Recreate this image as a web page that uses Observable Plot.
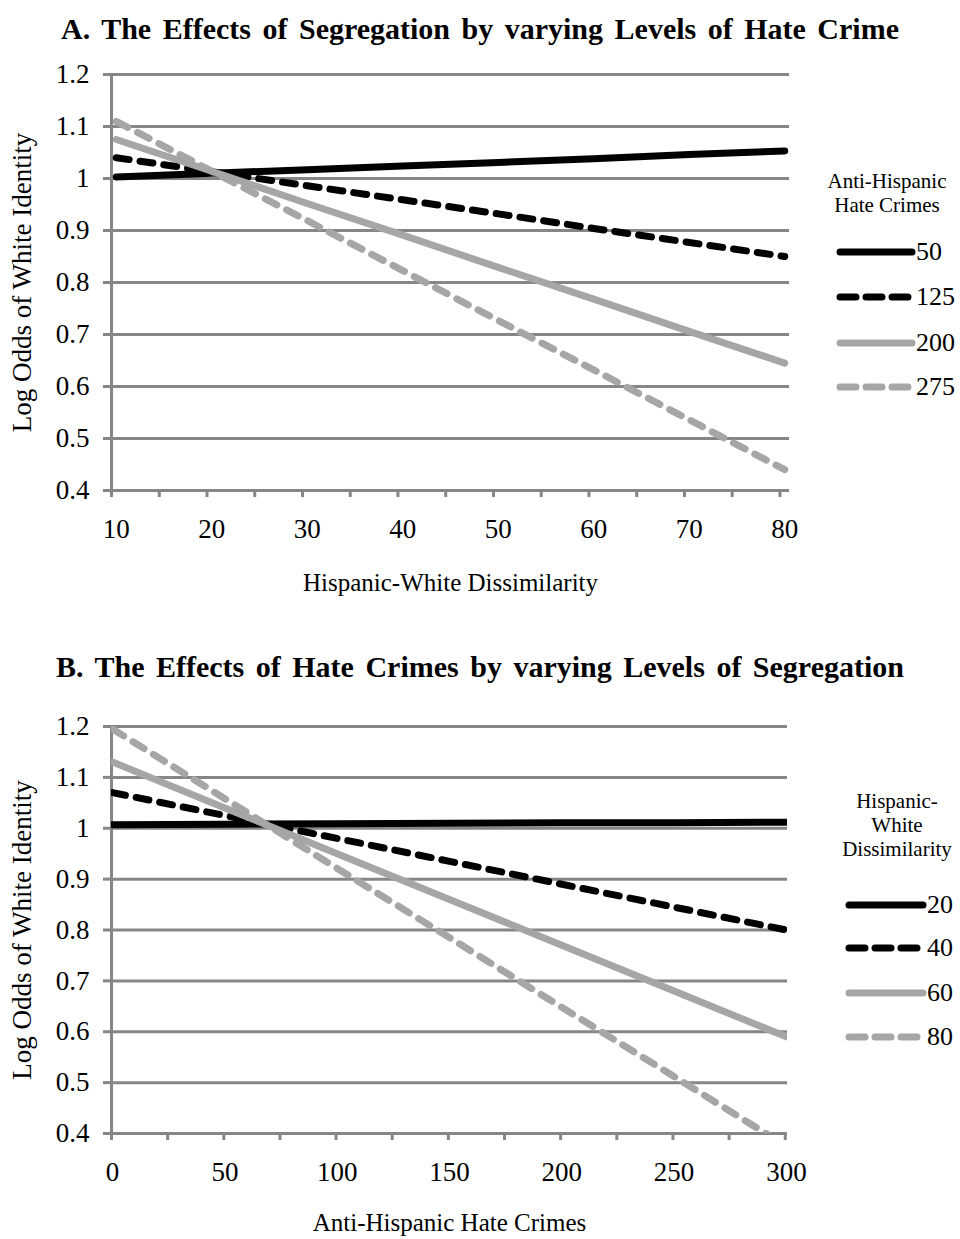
<!DOCTYPE html>
<html><head><meta charset="utf-8">
<script src="https://cdn.jsdelivr.net/npm/d3@7"></script>
<script src="https://cdn.jsdelivr.net/npm/@observablehq/plot@0.6"></script>
<style>
body{margin:0;background:#fff;font-family:"Liberation Serif","Times New Roman",serif;}
#page{position:relative;width:960px;height:1239px;overflow:hidden;background:#fff;}
.title{position:absolute;left:0;width:960px;text-align:center;font-weight:bold;font-size:30px;word-spacing:4px;line-height:1;color:#000;}
.plot{position:absolute;left:0;}
.lgt{position:absolute;text-align:center;font-size:21px;line-height:24px;color:#000;}
.lgi{position:absolute;font-size:26px;line-height:1;color:#000;}
</style></head>
<body><div id="page"></div>
<script>
// ---------- Panel A data ----------
const titleA = "A. The Effects of Segregation by varying Levels of Hate Crime";
const xTitleA = "Hispanic-White Dissimilarity";
const legendTitleA = ["Anti-Hispanic", "Hate Crimes"];
const seriesA = ["50", "125", "200", "275"];
const dissimilarity = [10, 20, 30, 40, 50, 60, 70, 80];
const crimes50  = [1.003, 1.010, 1.017, 1.024, 1.031, 1.038, 1.046, 1.053];
const crimes125 = [1.040, 1.013, 0.986, 0.959, 0.932, 0.904, 0.877, 0.850];
const crimes200 = [1.075, 1.014, 0.952, 0.891, 0.829, 0.768, 0.706, 0.645];
const crimes275 = [1.110, 1.014, 0.919, 0.823, 0.727, 0.632, 0.536, 0.440];
const xTickLabelsA = [10, 20, 30, 40, 50, 60, 70, 80];

// ---------- Panel B data ----------
const titleB = "B. The Effects of Hate Crimes by varying Levels of Segregation";
const xTitleB = "Anti-Hispanic Hate Crimes";
const legendTitleB = ["Hispanic-", "White", "Dissimilarity"];
const seriesB = ["20", "40", "60", "80"];
const hateCrimes = [0, 50, 100, 150, 200, 250, 300];
const dissim20 = [1.007, 1.008, 1.009, 1.010, 1.011, 1.011, 1.012];
const dissim40 = [1.070, 1.025, 0.980, 0.935, 0.890, 0.845, 0.800];
const dissim60 = [1.130, 1.040, 0.950, 0.860, 0.770, 0.680, 0.590];
const dissim80 = [1.195, 1.058, 0.921, 0.785, 0.648, 0.512, 0.375];
const xTickLabelsB = [0, 50, 100, 150, 200, 250, 300];

// ---------- shared ----------
const yTitle = "Log Odds of White Identity";
const yTicks = [0.4, 0.5, 0.6, 0.7, 0.8, 0.9, 1.0, 1.1, 1.2];
const styles = [
  {stroke: "#000000", dash: null},
  {stroke: "#000000", dash: "13,11"},
  {stroke: "#a6a6a6", dash: null},
  {stroke: "#a6a6a6", dash: "13,11"}
];
const GRID = "#868686";
const FONT = "Liberation Serif, Times New Roman, serif";

const page = document.getElementById("page");

function addTitle(text, top) {
  const d = document.createElement("div");
  d.className = "title"; d.style.top = top + "px"; d.textContent = text;
  page.appendChild(d);
}

function makePanel(cfg) {
  const rows = [];
  cfg.series.forEach((s, i) => cfg.values[i].forEach((v, j) => rows.push({series: s, x: cfg.xs[j], y: v})));
  const marks = [
    Plot.gridY(yTicks, {stroke: GRID, strokeOpacity: 1, strokeWidth: 3}),
    Plot.ruleX([cfg.domain[0]], {stroke: GRID, strokeWidth: 3}),
    Plot.axisY(yTicks, {tickSize: 8, tickPadding: 14, stroke: GRID, strokeWidth: 3, fill: "#000",
      fontSize: 27, tickFormat: d => String(+d.toFixed(1)), label: null}),
    Plot.axisX(cfg.tickMarks, {tickSize: 7, stroke: GRID, strokeWidth: 3, tickFormat: () => "", label: null}),
    Plot.axisX(cfg.tickLabels, {tickSize: 0, tickPadding: 28, fill: "#000", fontSize: 27, label: null,
      tickFormat: d => String(d)}),
    Plot.text([cfg.xTitle], {text: d => d, frameAnchor: "bottom", dy: cfg.xTitleDy, fontSize: 25, fill: "#000", lineAnchor: "middle"}),
    Plot.text([yTitle], {text: d => d, frameAnchor: "left", dx: -89, rotate: -90, fontSize: 27, fill: "#000",
      lineAnchor: "middle", textAnchor: "middle"})
  ];
  cfg.series.forEach((s, i) => {
    marks.push(Plot.line(rows.filter(r => r.series === s), {
      x: "x", y: "y", stroke: styles[i].stroke, strokeWidth: 7,
      strokeDasharray: styles[i].dash, strokeLinecap: "round", strokeLinejoin: "round", clip: true
    }));
  });
  const svg = Plot.plot({
    width: 960, height: cfg.height,
    marginLeft: 111, marginRight: 960 - cfg.right, marginTop: cfg.marginTop, marginBottom: cfg.marginBottom,
    style: {fontFamily: FONT, background: "#fff", color: "#000", overflow: "visible"},
    x: {domain: cfg.domain},
    y: {domain: [0.4, 1.2]},
    marks
  });
  svg.classList.add("plot");
  svg.style.top = cfg.top + "px";
  page.appendChild(svg);
}

function addLegend(titleLines, titleCx, titleTop, series, ys, x0, x1) {
  const t = document.createElement("div");
  t.className = "lgt";
  t.style.left = (titleCx - 80) + "px"; t.style.width = "160px"; t.style.top = titleTop + "px";
  t.innerHTML = titleLines.map(s => `<div>${s}</div>`).join("");
  page.appendChild(t);
  series.forEach((s, i) => {
    const ns = "http://www.w3.org/2000/svg";
    const sv = document.createElementNS(ns, "svg");
    sv.setAttribute("width", x1 - x0 + 10); sv.setAttribute("height", 12);
    sv.style.position = "absolute"; sv.style.left = (x0 - 5) + "px"; sv.style.top = (ys[i] - 6) + "px";
    const ln = document.createElementNS(ns, "line");
    ln.setAttribute("x1", 5); ln.setAttribute("x2", x1 - x0 + 5); ln.setAttribute("y1", 6); ln.setAttribute("y2", 6);
    ln.setAttribute("stroke", styles[i].stroke); ln.setAttribute("stroke-width", 7); ln.setAttribute("stroke-linecap", "round");
    if (styles[i].dash) ln.setAttribute("stroke-dasharray", "16,10");
    sv.appendChild(ln); page.appendChild(sv);
    const lb = document.createElement("div");
    lb.className = "lgi"; lb.textContent = s;
    lb.style.left = (x1 + 4) + "px"; lb.style.top = (ys[i] - 13) + "px";
    page.appendChild(lb);
  });
}

addTitle(titleA, 14);
makePanel({
  series: seriesA, xs: dissimilarity, values: [crimes50, crimes125, crimes200, crimes275],
  domain: [9.5, 80.5], tickMarks: d3.range(9.5, 81, 5), tickLabels: xTickLabelsA,
  xTitle: xTitleA, xTitleDy: 92, top: 50, height: 550, marginTop: 24, marginBottom: 110, right: 789
});
addLegend(legendTitleA, 887, 169, seriesA, [252, 297, 343, 387], 840, 912);

addTitle(titleB, 652);
makePanel({
  series: seriesB, xs: hateCrimes, values: [dissim20, dissim40, dissim60, dissim80],
  domain: [-0.5, 300.5], tickMarks: d3.range(-0.5, 301, 25), tickLabels: xTickLabelsB,
  xTitle: xTitleB, xTitleDy: 89, top: 700, height: 533, marginTop: 26, marginBottom: 100, right: 787
});
addLegend(legendTitleB, 897, 789, seriesB, [905, 948, 993, 1037], 849, 923);
</script>
</body></html>
